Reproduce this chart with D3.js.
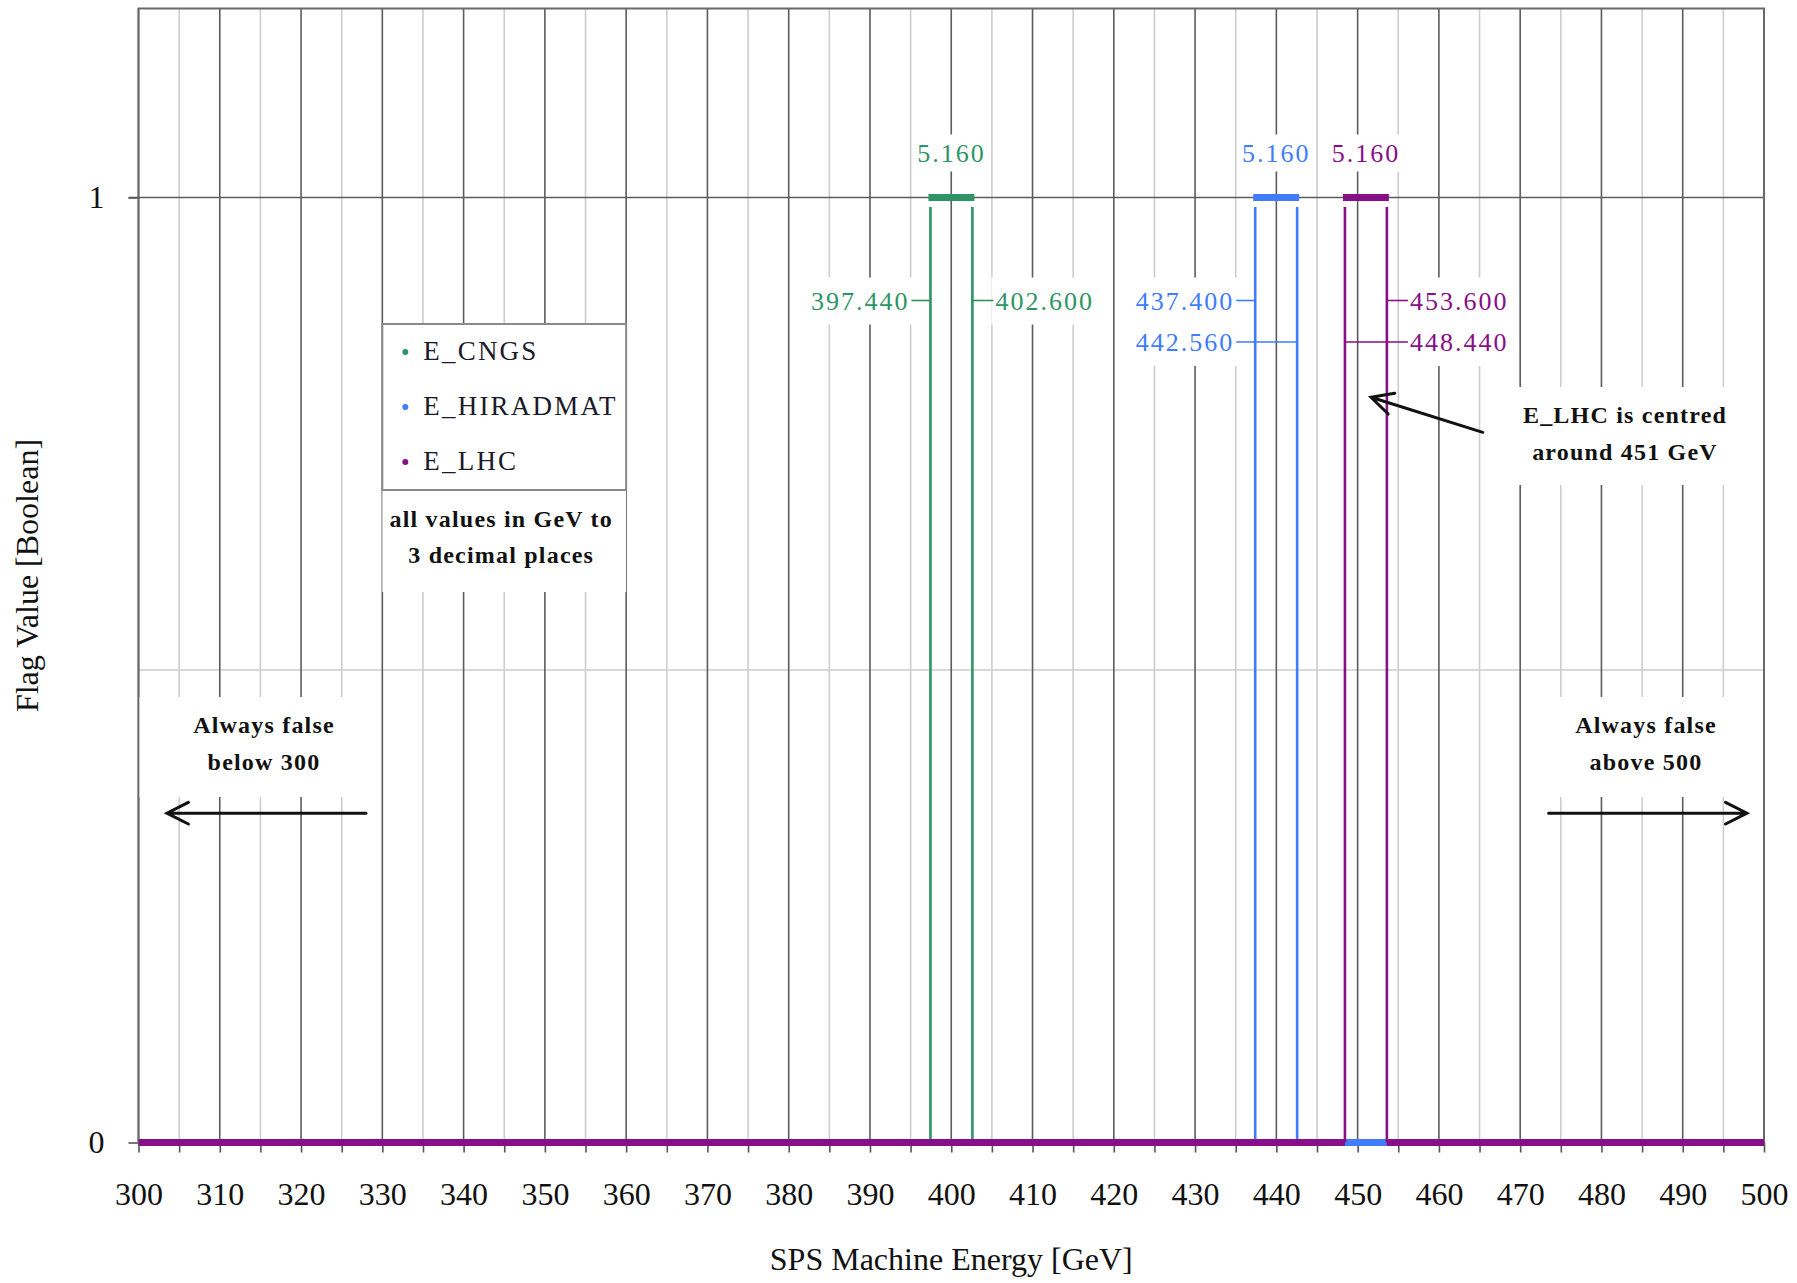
<!DOCTYPE html>
<html><head><meta charset="utf-8">
<script src="https://cdn.jsdelivr.net/npm/d3@7"></script>
<style>
body{margin:0;background:#fff}
svg{display:block}
text{font-family:"Liberation Serif","Times New Roman",serif}
</style>
</head><body>
<svg id="chart" width="1797" height="1283"></svg>
<script>
// ---------------- data ----------------
const seriesNames = ["E_CNGS", "E_HIRADMAT", "E_LHC"];
const lowerBounds = [397.44, 437.40, 448.44];
const upperBounds = [402.60, 442.56, 453.60];
const windowWidths = [5.160, 5.160, 5.160];
const xDomain = [300, 500];
const yDomain = [0, 1.2];
const xTickLabels = [300, 310, 320, 330, 340, 350, 360, 370, 380, 390, 400, 410, 420, 430, 440, 450, 460, 470, 480, 490, 500];
const yTickLabels = [0, 1];
const xTitle = "SPS Machine Energy [GeV]";
const yTitle = "Flag Value [Boolean]";

// ---------------- styles / layout ----------------
const seriesColors = ["#2e9466", "#3f7cff", "#870f87"];
const W = 1797, H = 1283;
const plot = {left: 138.5, right: 1764, top: 8.5, bottom: 1142.5};

const svg = d3.select("#chart");
const x = d3.scaleLinear().domain(xDomain).range([plot.left, plot.right]);
const y = d3.scaleLinear().domain(yDomain).range([plot.bottom, plot.top]);

// gridlines
const minorX = d3.range(xDomain[0] + 5, xDomain[1], 10);
const grid = svg.append("g");
grid.selectAll(".gminor").data(minorX).join("line")
  .attr("x1", d => x(d)).attr("x2", d => x(d))
  .attr("y1", plot.top).attr("y2", plot.bottom)
  .attr("stroke", "#cdcdcd").attr("stroke-width", 1.6);
grid.append("line").attr("x1", plot.left).attr("x2", plot.right)
  .attr("y1", y(0.5)).attr("y2", y(0.5)).attr("stroke", "#cdcdcd").attr("stroke-width", 1.6);
grid.selectAll(".gmajor").data(xTickLabels).join("line")
  .attr("x1", d => x(d)).attr("x2", d => x(d))
  .attr("y1", plot.top).attr("y2", plot.bottom)
  .attr("stroke", "#5c5c5c").attr("stroke-width", 1.6);
grid.append("line").attr("x1", plot.left - 10).attr("x2", plot.right)
  .attr("y1", y(1)).attr("y2", y(1)).attr("stroke", "#5c5c5c").attr("stroke-width", 1.6);
grid.append("rect").attr("x", plot.left).attr("y", plot.top)
  .attr("width", plot.right - plot.left).attr("height", plot.bottom - plot.top)
  .attr("fill", "none").attr("stroke", "#6a6a6a").attr("stroke-width", 2);

// white annotation boxes (cover gridlines)
const boxes = svg.append("g");
function whiteBox(x0, x1, y0, y1) {
  boxes.append("rect").attr("x", x0).attr("y", y0)
    .attr("width", x1 - x0).attr("height", y1 - y0).attr("fill", "#fff");
}
whiteBox(plot.left + 1, x(329.45), 697, 797);
whiteBox(x(470.35), plot.right - 1, 697, 797);
whiteBox(x(465.7), plot.right - 1, 387, 485);
whiteBox(x(330), x(360), 490, 592);

// axes
const xAxis = d3.axisBottom(x)
  .tickValues(d3.range(xDomain[0], xDomain[1] + 1, 5))
  .tickSize(10).tickPadding(30)
  .tickFormat(d => xTickLabels.includes(d) ? String(d) : "");
const gx = svg.append("g").attr("transform", `translate(0,${y(0)})`).call(xAxis);
gx.select(".domain").remove();
gx.selectAll(".tick line").attr("stroke", "#555").attr("stroke-width", 1.6);
gx.selectAll(".tick text").attr("font-size", 32).attr("fill", "#111")
  .style("font-family", '"Liberation Serif","Times New Roman",serif');

const yAxis = d3.axisLeft(y).tickValues(yTickLabels).tickSize(10).tickPadding(24).tickFormat(d3.format("d"));
const gy = svg.append("g").attr("transform", `translate(${plot.left},0)`).call(yAxis);
gy.select(".domain").remove();
gy.selectAll(".tick line").attr("stroke", "#555").attr("stroke-width", 1.6);
gy.selectAll(".tick text").attr("font-size", 32).attr("fill", "#111")
  .style("font-family", '"Liberation Serif","Times New Roman",serif');

// axis titles
svg.append("text").attr("x", (plot.left + plot.right) / 2).attr("y", 1270)
  .attr("text-anchor", "middle").attr("font-size", 32).attr("fill", "#111").text(xTitle);
svg.append("text").attr("transform", `translate(38,${(plot.top + plot.bottom) / 2}) rotate(-90)`)
  .attr("text-anchor", "middle").attr("font-size", 32).attr("fill", "#111").text(yTitle);

// label backgrounds layer (below series)
const labelBg = svg.append("g");
const seriesG = svg.append("g");
const labelG = svg.append("g");

// series
seriesNames.forEach((name, i) => {
  const c = seriesColors[i];
  const lo = lowerBounds[i], hi = upperBounds[i];
  const zeroSegs = [[xDomain[0], lo], [hi, xDomain[1]]];
  const g = seriesG.append("g");
  g.selectAll(".z").data(zeroSegs).join("line")
    .attr("x1", d => x(d[0])).attr("x2", d => x(d[1]))
    .attr("y1", y(0)).attr("y2", y(0))
    .attr("stroke", c).attr("stroke-width", 7);
  g.selectAll(".v").data([lo, hi]).join("line")
    .attr("x1", d => x(d)).attr("x2", d => x(d))
    .attr("y1", y(0)).attr("y2", y(0.99))
    .attr("stroke", c).attr("stroke-width", 2.6);
  g.append("line").attr("x1", x(lo) - 2).attr("x2", x(hi) + 2)
    .attr("y1", y(1)).attr("y2", y(1))
    .attr("stroke", c).attr("stroke-width", 7);
});

function addBg(textSel, padX, padY) {
  const b = textSel.node().getBBox();
  labelBg.append("rect").attr("x", b.x - padX).attr("y", b.y - padY)
    .attr("width", b.width + 2 * padX).attr("height", b.height + 2 * padY).attr("fill", "#fff");
}

// width labels
seriesNames.forEach((name, i) => {
  const t = labelG.append("text")
    .attr("x", x((lowerBounds[i] + upperBounds[i]) / 2)).attr("y", y(1) - 36)
    .attr("text-anchor", "middle").attr("font-size", 26).attr("letter-spacing", 2)
    .attr("fill", seriesColors[i]).text(windowWidths[i].toFixed(3));
  addBg(t, 3, 4);
});

// bound labels with leaders
const boundLabelLayout = [
  {s: 0, which: "lo", side: "left", row: 0},
  {s: 0, which: "hi", side: "right", row: 0},
  {s: 1, which: "lo", side: "left", row: 0},
  {s: 1, which: "hi", side: "left", row: 1},
  {s: 2, which: "hi", side: "right", row: 0},
  {s: 2, which: "lo", side: "right", row: 1}
];
const rowOffset = [103, 144.5];
boundLabelLayout.forEach(L => {
  const v = L.which === "lo" ? lowerBounds[L.s] : upperBounds[L.s];
  const c = seriesColors[L.s];
  const yy = y(1) + rowOffset[L.row];
  let tx, anchor, lx1, lx2;
  if (L.side === "left") {
    tx = x(lowerBounds[L.s]) - 21; anchor = "end";
    lx1 = tx + 2; lx2 = x(v);
  } else {
    tx = x(upperBounds[L.s]) + 23; anchor = "start";
    lx1 = x(v); lx2 = tx - 2;
  }
  const t = labelG.append("text").attr("x", tx).attr("y", yy + 9)
    .attr("text-anchor", anchor).attr("font-size", 26).attr("letter-spacing", 2)
    .attr("fill", c).text(v.toFixed(3));
  addBg(t, 4, 9);
  labelG.append("line").attr("x1", lx1).attr("x2", lx2).attr("y1", yy).attr("y2", yy)
    .attr("stroke", c).attr("stroke-width", 1.6);
});

// legend
const lg = svg.append("g");
const lx0 = x(330), lx1 = x(360), ly0 = 324, ly1 = 490;
lg.append("rect").attr("x", lx0).attr("y", ly0).attr("width", lx1 - lx0).attr("height", ly1 - ly0)
  .attr("fill", "#fff").attr("stroke", "#8a8a8a").attr("stroke-width", 2);
seriesNames.forEach((name, i) => {
  const by = ly0 + 36 + i * 55;
  lg.append("circle").attr("cx", lx0 + 23).attr("cy", by - 8).attr("r", 3).attr("fill", seriesColors[i]);
  lg.append("text").attr("x", lx0 + 41).attr("y", by).attr("font-size", 27)
    .attr("letter-spacing", 2.2).attr("fill", "#1a1a2a").text(name);
});

// annotations
function note(lines, cx, baselines) {
  lines.forEach((s, k) => {
    svg.append("text").attr("x", cx).attr("y", baselines[k]).attr("text-anchor", "middle")
      .attr("font-size", 24).attr("font-weight", "bold").attr("letter-spacing", 1.2)
      .attr("fill", "#111").text(s);
  });
}
note(["all values in GeV to", "3 decimal places"], (lx0 + lx1) / 2 - 3, [527, 563]);
note(["Always false", "below 300"], 264, [733, 770]);
note(["Always false", "above 500"], 1646, [733, 770]);
note(["E_LHC is centred", "around 451 GeV"], 1625, [423, 460]);

// arrows
function arrow(x1, y1, x2, y2) {
  const ang = Math.atan2(y2 - y1, x2 - x1);
  const len = 24, spread = 0.47;
  const a1 = [x2 - len * Math.cos(ang - spread), y2 - len * Math.sin(ang - spread)];
  const a2 = [x2 - len * Math.cos(ang + spread), y2 - len * Math.sin(ang + spread)];
  svg.append("path")
    .attr("d", `M${x1},${y1}L${x2},${y2}M${a1[0]},${a1[1]}L${x2},${y2}L${a2[0]},${a2[1]}`)
    .attr("fill", "none").attr("stroke", "#111").attr("stroke-width", 3).attr("stroke-linecap", "round");
}
arrow(x(328), y(0.3485), x(303.5), y(0.3485));
arrow(x(473.5), y(0.3485), x(497.9), y(0.3485));
arrow(x(465.4), y(0.7515), x(451.65), y(0.7886));
</script>
</body></html>
